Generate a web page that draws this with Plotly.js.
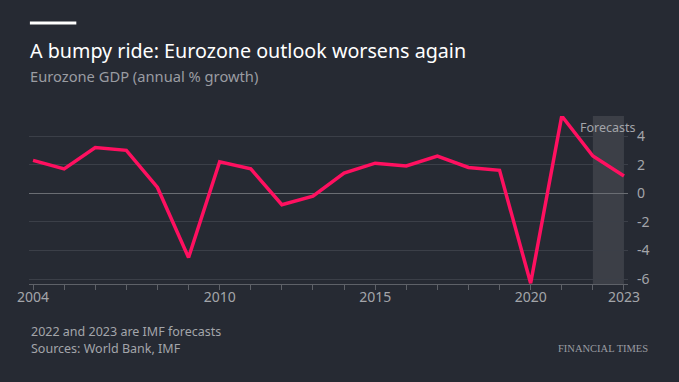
<!DOCTYPE html>
<html>
<head>
<meta charset="utf-8">
<script src="https://cdn.plot.ly/plotly-3.0.1.min.js"></script>
<style>
html,body{margin:0;padding:0;background:#262a33;}
#chart{width:679px;height:382px;}
</style>
</head>
<body>
<div id="chart"></div>
<script>
const years = [2004,2005,2006,2007,2008,2009,2010,2011,2012,2013,2014,2015,2016,2017,2018,2019,2020,2021,2022,2023];
const gdpGrowth = [2.3,1.7,3.2,3.0,0.4,-4.5,2.2,1.7,-0.8,-0.2,1.4,2.1,1.9,2.6,1.8,1.6,-6.3,5.4,2.6,1.2];
const forecastYears = [2022,2023];
const yTickVals = [-6,-4,-2,0,2,4];
const yTickText = ['-6','-4','-2','0','2','4'];
const xTickVals = [2004,2010,2015,2020,2023];
const xTickText = ['2004','2010','2015','2020','2023'];

const FONT = 'Noto Sans, sans-serif';

const trace = {
  x: years, y: gdpGrowth, type: 'scatter', mode: 'lines',
  line: {color: '#ff1060', width: 3.5},
  hoverinfo: 'x+y'
};

const layout = {
  width: 679, height: 382,
  paper_bgcolor: '#262a33', plot_bgcolor: '#262a33',
  margin: {l: 29, r: 51, t: 116, b: 98},
  showlegend: false,
  font: {family: FONT, color: '#a3a5aa', size: 13},
  xaxis: {
    range: [2003.87, 2023.13],
    tickvals: xTickVals, ticktext: xTickText,
    showgrid: false, zeroline: false,
    showline: true, linecolor: '#5e6168', linewidth: 1,
    ticks: '', tickfont: {size: 14, color: '#a3a5aa'},
    minor: {dtick: 1, tick0: 2004, ticks: 'outside', ticklen: 5, tickcolor: '#5e6168', showgrid: false},
    fixedrange: true
  },
  yaxis: {
    side: 'right', range: [-6.35, 5.4],
    tickvals: yTickVals, ticktext: yTickText,
    showgrid: true, gridcolor: '#3b3f48', gridwidth: 1,
    zeroline: true, zerolinecolor: '#6a6d73', zerolinewidth: 1,
    ticks: '', ticklabelstandoff: 8,
    tickfont: {size: 14, color: '#a3a5aa'},
    fixedrange: true
  },
  shapes: [
    {type: 'line', xref: 'paper', yref: 'paper', x0: 0.0015, x1: 0.079, y0: 1.5536, y1: 1.5536, line: {color: '#ffffff', width: 3}},
    {type: 'rect', xref: 'x', yref: 'paper', x0: forecastYears[0], x1: forecastYears[1], y0: 0, y1: 1,
     fillcolor: 'rgba(255,255,255,0.1)', line: {width: 0}, layer: 'below'}
  ],
  annotations: [
    {text: 'A bumpy ride: Eurozone outlook worsens again', xref: 'paper', yref: 'paper', x: -0.002, y: 1, yshift: 66, xanchor: 'left', yanchor: 'middle', showarrow: false,
     font: {size: 19.7, color: '#ffffff', family: FONT}},
    {text: 'Eurozone GDP (annual % growth)', xref: 'paper', yref: 'paper', x: -0.002, y: 1, yshift: 40, xanchor: 'left', yanchor: 'middle', showarrow: false,
     font: {size: 14.7, color: '#9a9ca2', family: FONT}},
    {text: 'Forecasts', xref: 'x', yref: 'paper', x: 2022.5, y: 1, yshift: -11, xanchor: 'center', yanchor: 'middle', showarrow: false,
     font: {size: 12.5, color: '#a3a5aa', family: FONT}},
    {text: '2022 and 2023 are IMF forecasts', xref: 'paper', yref: 'paper', x: 0, y: 0, yshift: -47, xanchor: 'left', yanchor: 'middle', showarrow: false,
     font: {size: 12.5, color: '#a3a5aa', family: FONT}},
    {text: 'Sources: World Bank, IMF', xref: 'paper', yref: 'paper', x: 0, y: 0, yshift: -64, xanchor: 'left', yanchor: 'middle', showarrow: false,
     font: {size: 12.5, color: '#a3a5aa', family: FONT}},
    {text: 'FINANCIAL TIMES', xref: 'paper', yref: 'paper', x: 1, y: 0, xshift: 22, yshift: -64, xanchor: 'right', yanchor: 'middle', showarrow: false,
     font: {size: 10.5, color: '#9a9ca2', family: 'Liberation Serif, serif'}}
  ]
};

Plotly.newPlot('chart', [trace], layout, {displayModeBar: false, staticPlot: true});
</script>
</body>
</html>
